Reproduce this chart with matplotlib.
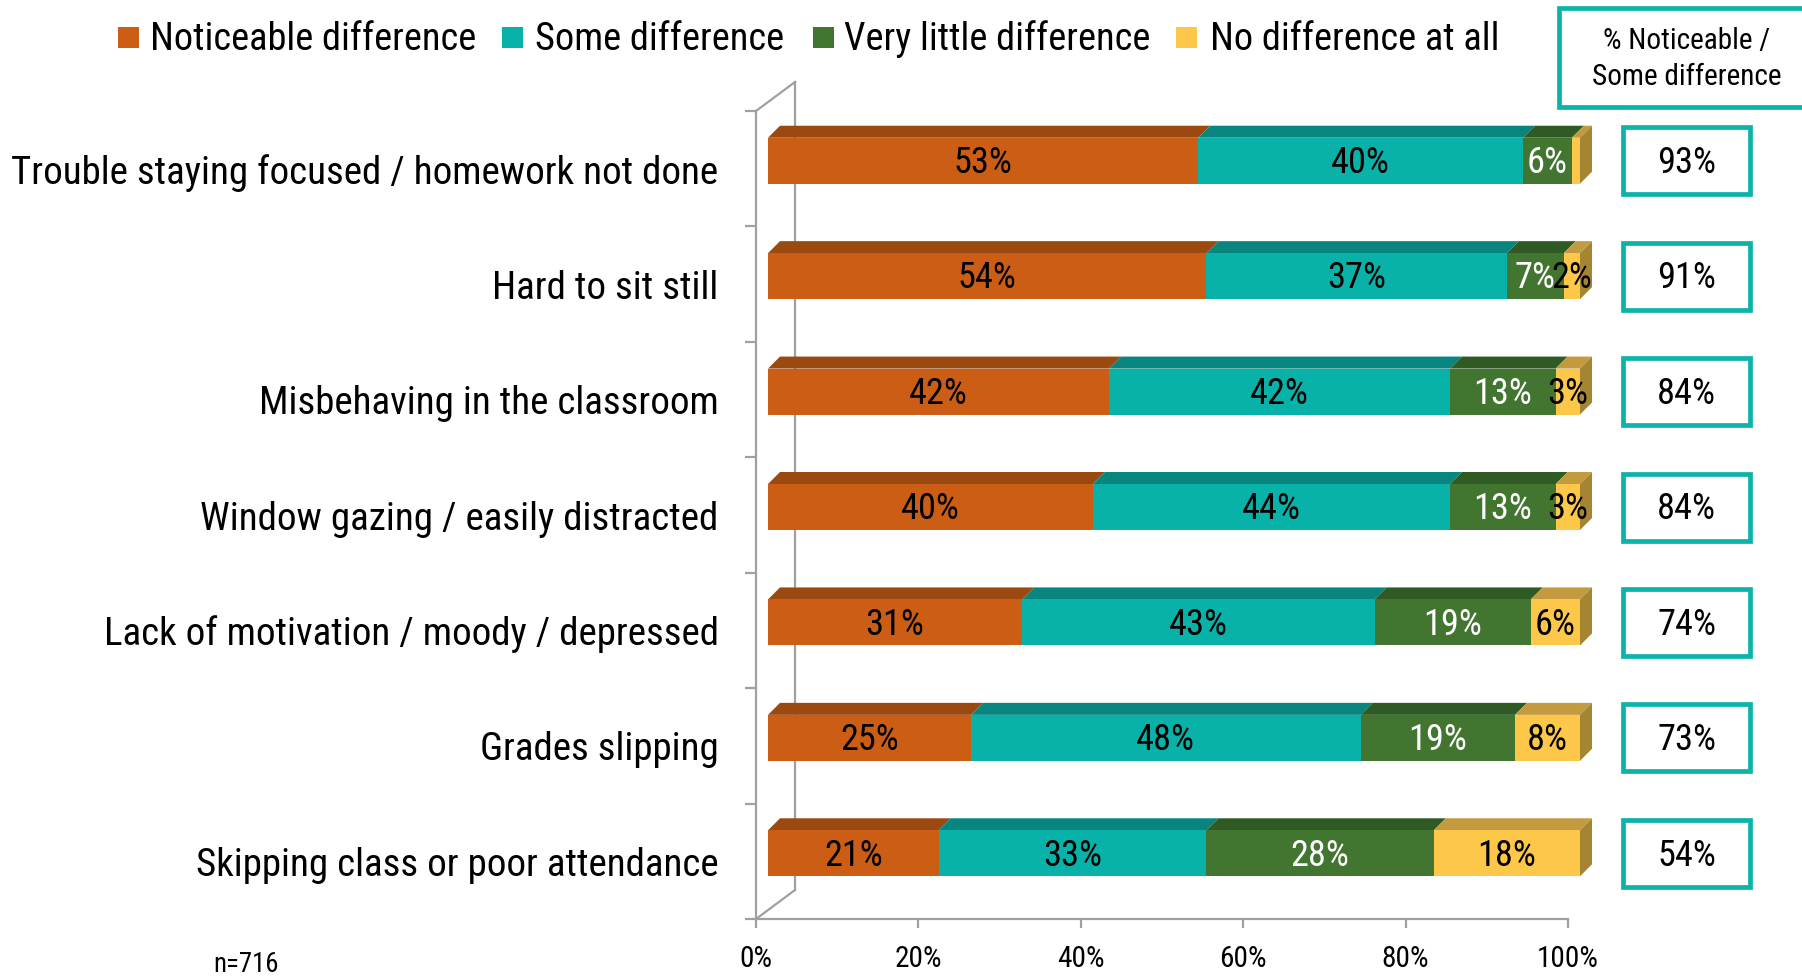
import numpy as np
import matplotlib.pyplot as plt
from matplotlib.patches import Polygon, Rectangle
from matplotlib import font_manager

# pick a narrow sans if one is installed, else plain Liberation Sans
fonts = font_manager.fontManager.ttflist
family, stretch = 'Liberation Sans', 'normal'
for want in ['Liberation Sans Narrow', 'Arial Narrow', 'Roboto Condensed', 'Open Sans Condensed',
             'Noto Sans Condensed', 'DejaVu Sans Condensed']:
    if any(f.name == want for f in fonts):
        family = want
        break
else:
    for base in ['Noto Sans', 'Roboto', 'Open Sans', 'DejaVu Sans']:
        hit = [f for f in fonts if f.name == base and f.style == 'normal'
               and str(f.stretch) in ('condensed', 'semi-condensed') and f.weight in (400, 'normal', 'regular')]
        if hit:
            family, stretch = base, str(hit[0].stretch)
            break
plt.rcParams['font.family'] = [family, 'DejaVu Sans']
plt.rcParams['font.stretch'] = stretch

categories = ['Trouble staying focused / homework not done', 'Hard to sit still',
              'Misbehaving in the classroom', 'Window gazing / easily distracted',
              'Lack of motivation / moody / depressed', 'Grades slipping',
              'Skipping class or poor attendance']
noticeable = [53, 54, 42, 40, 31, 25, 21]
some = [40, 37, 42, 44, 43, 48, 33]
very_little = [6, 7, 13, 13, 19, 19, 28]
none_at_all = [1, 2, 3, 3, 6, 8, 18]
series_names = ['Noticeable difference', 'Some difference',
                'Very little difference', 'No difference at all']
x_ticks = [0, 20, 40, 60, 80, 100]
box_title = '% Noticeable /\nSome difference'
sample_note = 'n=716'

front = ['#CB5E14', '#08B2A8', '#427530', '#FDC84A']
top = ['#9A4A10', '#07857E', '#2F5A23', '#C49A3E']
side = '#A68532'
label_colors = ['black', 'black', 'white', 'black']
teal = '#0BB3A9'
gray = '#A0A0A0'

W, H = 1802, 977
fig = plt.figure(figsize=(W / 100, H / 100), dpi=100)
renderer = fig.canvas.get_renderer()


def fit(text, size, target_px, cap=1.15):
    # font size so that text is about as wide as in the original
    t = fig.text(0, 0, text, fontsize=size)
    w = t.get_window_extent(renderer).width
    t.remove()
    return size * min(cap, target_px / w)


fs_cat = fit(categories[0], 30, 707)
fs_leg = fit(series_names[0], 30, 326)
fs_bar = fit('53%', 26, 59, cap=1.3)
fs_tick = fit('100%', 21, 62, cap=1.3)
fs_head = fit('Some difference', 23, 190)
fs_note = fit(sample_note, 20, 65)

# axes in pixels (from top-left)
ax_l, ax_r, ax_t, ax_b = 756, 1568, 111, 919
ax = fig.add_axes([ax_l / W, 1 - ax_b / H, (ax_r - ax_l) / W, (ax_b - ax_t) / H])
n = len(categories)
ax.set_xlim(0, 100)
ax.set_ylim(n - 0.5, -0.5)
ux = (ax_r - ax_l) / 100
uy = (ax_b - ax_t) / n

data = np.array([noticeable, some, very_little, none_at_all], float)
shares = data / data.sum(axis=0) * 100
y = np.arange(n)

shift_x, shift_y = 12 / ux, 8 / uy
dep_x, dep_y = 12 / ux, 12 / uy
bar_h = 46 / uy
yc = y - shift_y
left = np.zeros(n) + shift_x

for k in range(4):
    bars = ax.barh(yc, shares[k], left=left, height=bar_h, color=front[k], zorder=3)
    for b in bars:
        b.set_clip_on(False)
    for i in range(n):
        x0 = left[i]
        x1 = x0 + shares[k][i]
        yt = yc[i] - bar_h / 2
        ax.add_patch(Polygon([(x0, yt), (x1, yt), (x1 + dep_x, yt - dep_y), (x0 + dep_x, yt - dep_y)],
                             closed=True, facecolor=top[k], edgecolor='none', zorder=2, clip_on=False))
        if data[k][i] >= 2:
            ax.text((x0 + x1) / 2, yc[i] + 0.02, f'{int(data[k][i])}%', ha='center', va='center',
                    fontsize=fs_bar, color=label_colors[k], zorder=5, clip_on=False)
    left += shares[k]

# right side faces
for i in range(n):
    x1 = left[i]
    yt, yb = yc[i] - bar_h / 2, yc[i] + bar_h / 2
    ax.add_patch(Polygon([(x1, yt), (x1, yb), (x1 + dep_x, yb - dep_y), (x1 + dep_x, yt - dep_y)],
                         closed=True, facecolor=side, edgecolor='none', zorder=2, clip_on=False))

# 3d wall lines
bx, by = 39 / ux, 29 / uy
ax.plot([bx, bx], [-0.5 - by, n - 0.5 - by], color=gray, lw=1.6, zorder=1, clip_on=False)
ax.plot([0, bx], [-0.5, -0.5 - by], color=gray, lw=1.6, zorder=1, clip_on=False)
ax.plot([0, bx], [n - 0.5, n - 0.5 - by], color=gray, lw=1.6, zorder=1, clip_on=False)

for s in ['top', 'right']:
    ax.spines[s].set_visible(False)
for s in ['left', 'bottom']:
    ax.spines[s].set_color(gray)
    ax.spines[s].set_linewidth(1.6)
ax.set_yticks(np.arange(n + 1) - 0.5)
ax.set_yticklabels([])
ax.set_yticks(y, minor=True)
ax.set_yticklabels(categories, minor=True, fontsize=fs_cat)
ax.tick_params(axis='y', which='major', length=8, width=1.6, color=gray)
ax.tick_params(axis='y', which='minor', length=0, pad=27)
ax.set_xticks(x_ticks)
ax.set_xticklabels([f'{v}%' for v in x_ticks], fontsize=fs_tick)
ax.tick_params(axis='x', length=6.5, width=1.6, color=gray, pad=12)
ax.patch.set_visible(False)

# total boxes
totals = data[0] + data[1]
bl, br = (1623 - ax_l) / ux, (1750 - ax_l) / ux
bh = 67 / uy
for i in range(n):
    ax.add_patch(Rectangle((bl, yc[i] - bh / 2), br - bl, bh, facecolor='white', edgecolor=teal,
                           lw=3.4, clip_on=False, zorder=4))
    ax.text((bl + br) / 2, yc[i] + 0.02, f'{int(totals[i])}%', ha='center', va='center',
            fontsize=fs_bar, zorder=5, clip_on=False)

# header box
fig.add_artist(Rectangle((1559 / W, 1 - 107 / H), 260 / W, 99 / H, transform=fig.transFigure,
                         facecolor='white', edgecolor=teal, lw=3.4, clip_on=False))
fig.text(1687 / W, 1 - 59 / H, box_title, ha='center', va='center', fontsize=fs_head, linespacing=1.35)

# legend
sq_x = [118, 502, 813, 1176]
tx_x = [150, 535, 844, 1210]
for k in range(4):
    fig.add_artist(Rectangle((sq_x[k] / W, 1 - 48 / H), 21 / W, 21 / H, transform=fig.transFigure,
                             facecolor=front[k], edgecolor='none'))
    fig.text(tx_x[k] / W, 1 - 39 / H, series_names[k], ha='left', va='center', fontsize=fs_leg)

fig.text(213 / W, 1 - 965 / H, sample_note, ha='left', va='center', fontsize=fs_note)

fig.savefig('out.png', dpi=100)
